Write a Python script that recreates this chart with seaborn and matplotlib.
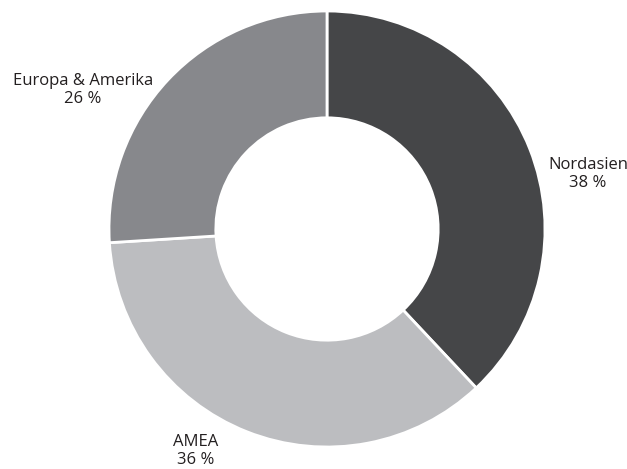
import matplotlib
matplotlib.use("Agg")
import matplotlib.pyplot as plt
import seaborn as sns

# Data
categories = ["Nordasien", "AMEA", "Europa & Amerika"]
values = [38, 36, 26]
value_labels = ["38 %", "36 %", "26 %"]
colors = ["#454648", "#bcbdc0", "#87888c"]

sns.set_theme(style="white")
plt.rcParams["font.family"] = ["Open Sans", "DejaVu Sans"]

W, H = 627, 469
fig = plt.figure(figsize=(W / 100, H / 100), dpi=100)
cx, cy, r = 327, 229, 218
ax = fig.add_axes([(cx - r) / W, (H - cy - r) / H, 2 * r / W, 2 * r / H])

wedges, _ = ax.pie(
    values,
    colors=colors,
    startangle=90,
    counterclock=False,
    radius=1.0,
    wedgeprops=dict(width=0.49, edgecolor="white", linewidth=2.0),
)
ax.set_xlim(-1, 1)
ax.set_ylim(-1, 1)
ax.set_aspect("equal")
ax.axis("off")

def px2data(px, py):
    return (px - cx) / r, (cy - py) / r

label_pos = {
    "Nordasien": (588, 174),
    "AMEA": (196, 451),
    "Europa & Amerika": (83, 90),
}
for cat, vl in zip(categories, value_labels):
    x, y = px2data(*label_pos[cat])
    ax.text(x, y, f"{cat}\n{vl}", ha="center", va="center",
            fontsize=12, color="#231f20", linespacing=1.1, clip_on=False)

fig.savefig("out.png", dpi=100)
